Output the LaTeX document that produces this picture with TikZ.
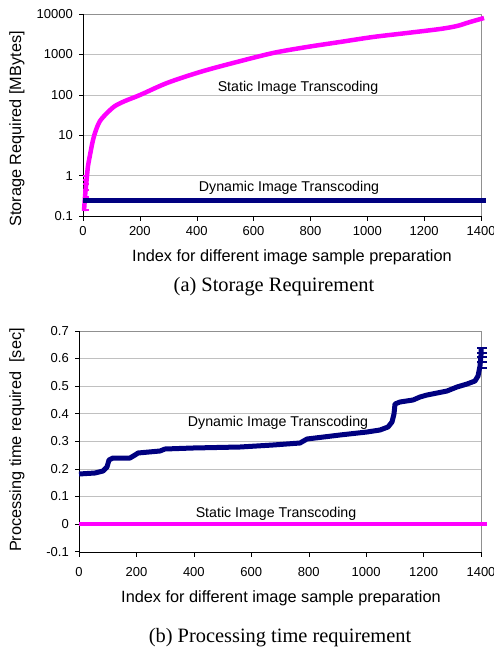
\documentclass[tikz,border=0pt]{standalone}
\usepackage{fontspec}
\setmainfont{Liberation Serif}
\setsansfont{Liberation Sans}
\usepackage{tikz}

\definecolor{dynblue}{HTML}{000080}
\definecolor{statpink}{HTML}{FF00FF}
\definecolor{gridgray}{HTML}{C0C0C0}
\definecolor{framegray}{HTML}{909090}

\tikzset{
	ticklab/.style = {font = \sffamily\fontsize{13}{15}\selectfont, inner sep = 0pt},
	axislab/.style = {font = \sffamily\fontsize{16.3}{18}\selectfont, inner sep = 0pt},
	serieslab/.style = {font = \sffamily\fontsize{14.2}{16}\selectfont, inner sep = 0pt},
	figcaption/.style = {font = \fontsize{20.4}{22}\selectfont, inner sep = 0pt},
	dynline/.style = {dynblue, line width = 5pt},
	statline/.style = {statpink, line width = 4.5pt}
}

\begin{document}
\begin{tikzpicture}[x = 1pt, y = -1pt]
		\useasboundingbox (0,0) rectangle (494,647);
		% (a) storage, log scale
		\foreach \y in {54.4,94.8,135.2,175.6} \draw[gridgray] (83,\y) -- (481,\y);
		\draw[framegray] (83,14) -- (481,14) -- (481,216);
		\draw (83,14) -- (83,216) -- (481,216);
		\foreach \v [count = \k from 0] in {0.1,1,10,100,1000,10000} {
			\draw (79,{216-40.4*\k}) -- (83,{216-40.4*\k});
			\node[ticklab, anchor = east] (sy\k) at (73,{216-40.4*\k}) {\v};
		}
		\foreach \v [count = \k from 0] in {0,200,...,1400} {
			\draw ({83+56.86*\k},216) -- ({83+56.86*\k},221);
			\node[ticklab] (sx\k) at ({83+56.86*\k},231) {\v};
		}
		\draw[statline] plot[smooth] coordinates {(84,211) (85,197) (86,186) (87,176) (88,166) (90,155) (93,140) (96,130) (100,121) (107,113) (115,106) (125,101) (140,95) (167,83) (200,72) (233,63) (273,53) (307,47) (340,42) (373,37) (407,33) (440,29) (457,26) (470,22) (484,18)};
		\foreach \y in {176,180,184,190,197,210} \draw[statpink, line width = 2pt] (83,\y) -- (89,\y);
		\draw[dynline] (83,200) -- (486,200);
		\node[serieslab] (statA) at (298,88) {Static Image Transcoding};
		\node[serieslab] (dynA) at (289,188) {Dynamic Image Transcoding};
		\node[axislab] (xlabA) at (292,257) {Index for different image sample preparation};
		\node[axislab, rotate = 90] (ylabA) at (17,129) {Storage Required [MBytes]};
		\node[figcaption] (capA) at (274,287) {(a) Storage Requirement};
		% (b) processing time
		\foreach \y in {358.4,386,413.6,441.2,468.8,496.4,524} \draw[gridgray] (79,\y) -- (481,\y);
		\draw[framegray] (79,331) -- (481,331) -- (481,552);
		\draw (79,331) -- (79,552) -- (481,552);
		\foreach \v [count = \k from 0] in {-0.1,0,0.1,0.2,0.3,0.4,0.5,0.6,0.7} {
			\draw (75,{551.6-27.6*\k}) -- (79,{551.6-27.6*\k});
			\node[ticklab, anchor = east] (py\k) at (69,{551.6-27.6*\k}) {\v};
		}
		\foreach \v [count = \k from 0] in {0,200,...,1400} {
			\draw ({79+57.43*\k},552) -- ({79+57.43*\k},557);
			\node[ticklab] (px\k) at ({79+57.43*\k},572) {\v};
		}
		\draw[statline] (79,524) -- (487,524);
		\draw[dynline, line join = round] plot coordinates {(79,474) (95,473) (103,471) (107,467) (109,460) (113,458) (130,458) (135,455) (138,453) (160,451) (165,449) (193,448) (240,447) (273,445) (300,443) (307,439) (340,435) (367,432) (380,430) (388,427) (392,422) (394,414) (395,404) (400,402) (413,400) (420,397) (427,395) (447,391) (457,387) (467,384) (475,381) (478,376) (480,366) (481,355) (481,347)};
		\foreach \y in {348,353,357,362,368} \draw[dynblue, line width = 2pt] (477,\y) -- (487,\y);
		\node[serieslab] (dynB) at (278,423) {Dynamic Image Transcoding};
		\node[serieslab] (statB) at (276,514) {Static Image Transcoding};
		\node[axislab] (xlabB) at (281,598) {Index for different image sample preparation};
		\node[axislab, rotate = 90] (ylabB) at (17,440) {Processing time required\ \ [sec]};
		\node[figcaption] (capB) at (280,638) {(b) Processing time requirement};
	\end{tikzpicture}
\end{document}
